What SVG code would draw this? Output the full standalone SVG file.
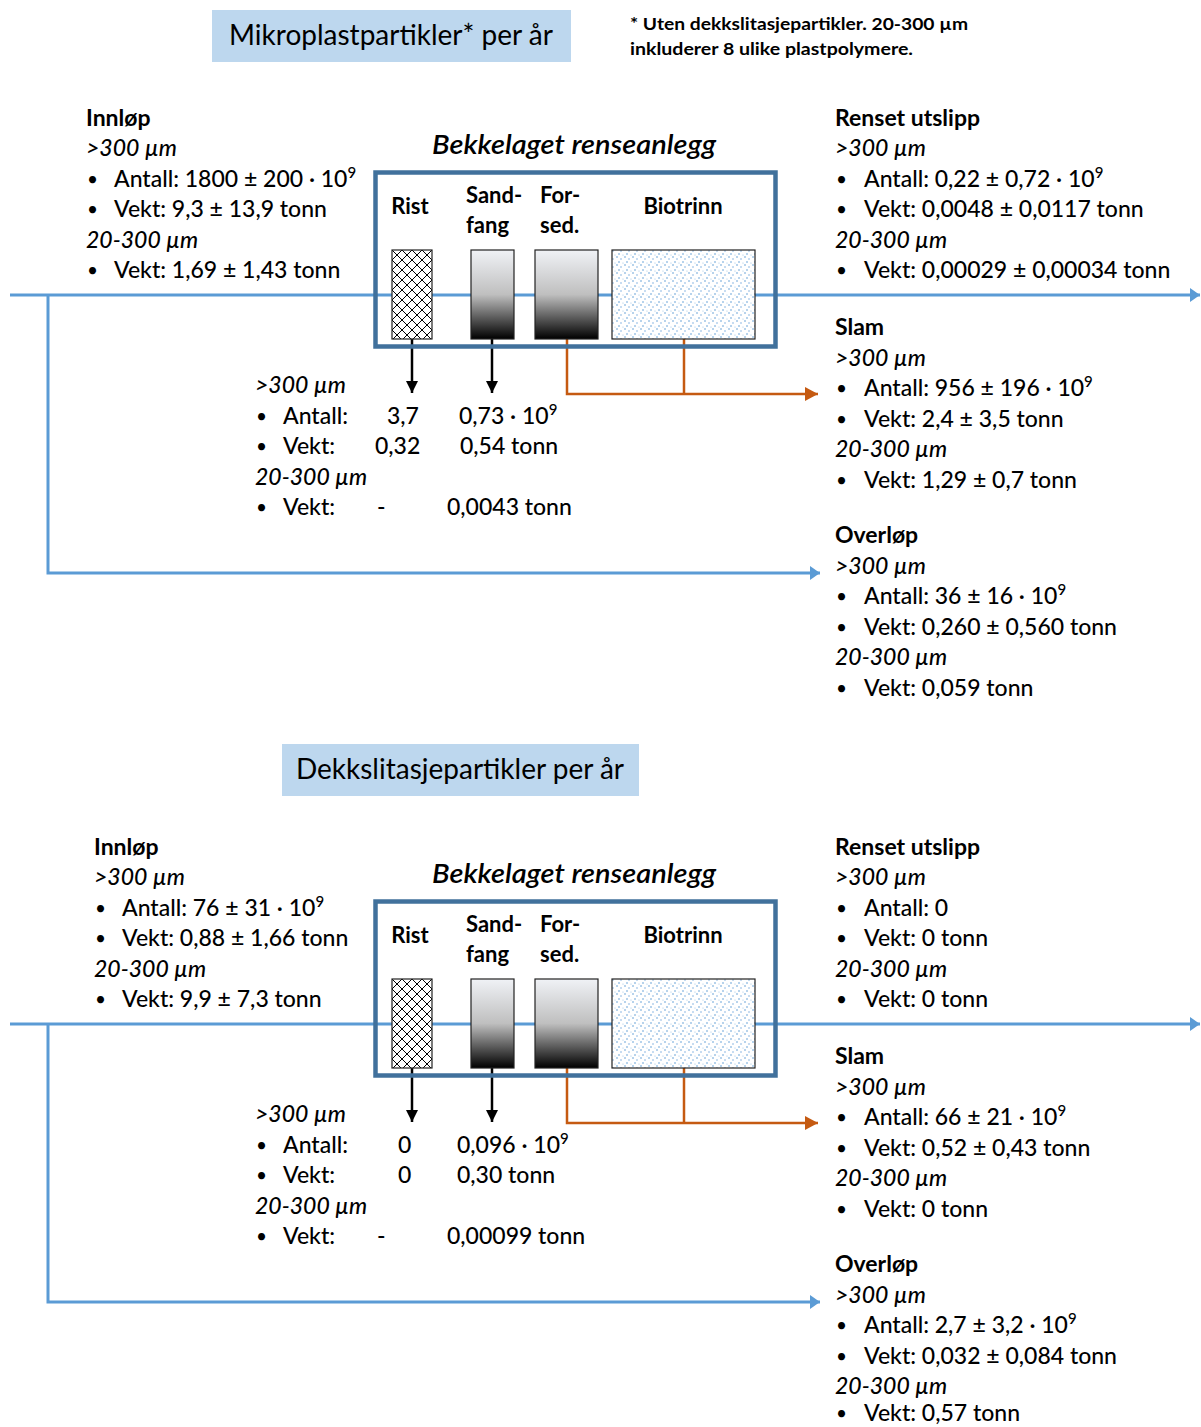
<svg xmlns="http://www.w3.org/2000/svg" width="1201" height="1427" viewBox="0 0 1201 1427">
<style>
text{font-family:Lato,"Liberation Sans",Arial,sans-serif;fill:#000}
.t{font-size:23px;font-weight:500}
.b{font-size:19px}
.h{font-size:23px;font-weight:bold}
.i{font-size:23px;font-style:italic;font-weight:500}
.lab{font-size:22px;font-weight:bold}
.ttl{font-size:28px}
.fn{font-size:17px;font-weight:bold}
.plant{font-size:27px;font-style:italic;font-weight:600}
.sup{font-size:15px}
.blue{stroke:#5B9BD5;stroke-width:3;fill:none}
.org{stroke:#C55A11;stroke-width:2.5;fill:none}
.blk{stroke:#000;stroke-width:2.5;fill:none}
.frame{stroke:#41719C;stroke-width:4.5;fill:none}
.unit{stroke:#222;stroke-width:1.2}
</style>
<defs>
<marker id="ab" markerUnits="userSpaceOnUse" markerWidth="10" markerHeight="14" refX="10" refY="7" orient="auto"><path d="M0,0 L10,7 L0,14 z" fill="#5B9BD5"/></marker>
<marker id="ak" markerUnits="userSpaceOnUse" markerWidth="12" markerHeight="12" refX="12" refY="6" orient="auto"><path d="M0,0 L12,6 L0,12 z" fill="#000"/></marker>
<marker id="ao" markerUnits="userSpaceOnUse" markerWidth="13" markerHeight="14" refX="13" refY="7" orient="auto"><path d="M0,0 L13,7 L0,14 z" fill="#C55A11"/></marker>
<pattern id="hatch" patternUnits="userSpaceOnUse" width="10" height="10" x="392" y="250">
<rect width="10" height="10" fill="#fff"/>
<path d="M0,0 L10,10 M10,0 L0,10" stroke="#000" stroke-width="1"/>
</pattern>
<pattern id="dots" patternUnits="userSpaceOnUse" width="8" height="8">
<rect width="8" height="8" fill="#fff"/>
<circle cx="1" cy="1" r="0.8" fill="#5B9BD5"/>
<circle cx="5" cy="3" r="0.8" fill="#7FB0E0"/>
<circle cx="3" cy="6" r="0.8" fill="#5B9BD5"/>
<circle cx="7" cy="7" r="0.6" fill="#9DC3E6"/>
</pattern>
<linearGradient id="grad" x1="0" y1="0" x2="0" y2="1">
<stop offset="0" stop-color="#F0F2F6"/>
<stop offset="0.5" stop-color="#BFBFBF"/>
<stop offset="1" stop-color="#000"/>
</linearGradient>
<g id="plantShape">
<rect x="375.5" y="172.5" width="400" height="174" class="frame"/>
<rect x="392" y="250" width="40" height="89" fill="url(#hatch)" class="unit"/>
<rect x="471" y="250" width="43" height="89" fill="url(#grad)" class="unit"/>
<rect x="535" y="250" width="63" height="89" fill="url(#grad)" class="unit"/>
<rect x="612" y="250" width="143" height="89" fill="url(#dots)" class="unit"/>
<text x="410" y="214" class="lab" text-anchor="middle">Rist</text>
<text x="466" y="203" class="lab">Sand-</text>
<text x="466" y="233" class="lab">fang</text>
<text x="540" y="203" class="lab">For-</text>
<text x="540" y="233" class="lab">sed.</text>
<text x="683" y="214" class="lab" text-anchor="middle">Biotrinn</text>
<text x="432" y="154" class="plant" textLength="284" lengthAdjust="spacingAndGlyphs">Bekkelaget renseanlegg</text>
</g>
<g id="flows">
<path d="M10,295 H1200" class="blue" marker-end="url(#ab)"/>
<path d="M48,295 V573 H820" class="blue" marker-end="url(#ab)"/>
<path d="M412,339 V393" class="blk" marker-end="url(#ak)"/>
<path d="M492,339 V393" class="blk" marker-end="url(#ak)"/>
<path d="M567,339 V394 H818" class="org" marker-end="url(#ao)"/>
<path d="M684,339 V394" class="org"/>
</g>
</defs>

<!-- Section 1 -->
<g id="title1">
<rect x="212" y="10" width="359" height="52" fill="#BDD7EE"/>
<text x="391" y="45" class="ttl" text-anchor="middle">Mikroplastpartikler* per år</text>
</g>
<g id="footnote">
<text x="630" y="30" class="fn" textLength="338" lengthAdjust="spacingAndGlyphs">* Uten dekkslitasjepartikler. 20-300 µm</text>
<text x="630" y="55" class="fn" textLength="283" lengthAdjust="spacingAndGlyphs">inkluderer 8 ulike plastpolymere.</text>
</g>
<g id="connectors1">
<use href="#flows"/>
</g>
<g id="plant1">
<use href="#plantShape"/>
</g>
<g id="inlet1">
<text x="86" y="126" class="h">Innløp</text>
<text x="86" y="156" class="i">&gt;300 µm</text>
<text x="87" y="186" class="b">•</text><text x="114" y="187" class="t">Antall: 1800 ± 200 · 10<tspan class="sup" dy="-9">9</tspan></text>
<text x="87" y="216" class="b">•</text><text x="114" y="217" class="t">Vekt: 9,3 ± 13,9 tonn</text>
<text x="86" y="248" class="i">20-300 µm</text>
<text x="87" y="277" class="b">•</text><text x="114" y="278" class="t">Vekt: 1,69 ± 1,43 tonn</text>
</g>
<g id="removed1">
<text x="255" y="393" class="i">&gt;300 µm</text>
<text x="256" y="423" class="b">•</text><text x="283" y="424" class="t">Antall:</text>
<text x="387" y="424" class="t">3,7</text><text x="459" y="424" class="t">0,73 · 10<tspan class="sup" dy="-9">9</tspan></text>
<text x="256" y="453" class="b">•</text><text x="283" y="454" class="t">Vekt:</text>
<text x="375" y="454" class="t">0,32</text><text x="460" y="454" class="t">0,54 tonn</text>
<text x="255" y="485" class="i">20-300 µm</text>
<text x="256" y="514" class="b">•</text><text x="283" y="515" class="t">Vekt:</text>
<text x="377" y="515" class="t">-</text><text x="447" y="515" class="t">0,0043 tonn</text>
</g>
<g id="effluent1">
<text x="835" y="126" class="h">Renset utslipp</text>
<text x="835" y="156" class="i">&gt;300 µm</text>
<text x="836" y="186" class="b">•</text><text x="864" y="187" class="t">Antall: 0,22 ± 0,72 · 10<tspan class="sup" dy="-9">9</tspan></text>
<text x="836" y="216" class="b">•</text><text x="864" y="217" class="t">Vekt: 0,0048 ± 0,0117 tonn</text>
<text x="835" y="248" class="i">20-300 µm</text>
<text x="836" y="277" class="b">•</text><text x="864" y="278" class="t">Vekt: 0,00029 ± 0,00034 tonn</text>
</g>
<g id="sludge1">
<text x="835" y="335" class="h">Slam</text>
<text x="835" y="366" class="i">&gt;300 µm</text>
<text x="836" y="395" class="b">•</text><text x="864" y="396" class="t">Antall: 956 ± 196 · 10<tspan class="sup" dy="-9">9</tspan></text>
<text x="836" y="426" class="b">•</text><text x="864" y="427" class="t">Vekt: 2,4 ± 3,5 tonn</text>
<text x="835" y="457" class="i">20-300 µm</text>
<text x="836" y="487" class="b">•</text><text x="864" y="488" class="t">Vekt: 1,29 ± 0,7 tonn</text>
</g>
<g id="overflow1">
<text x="835" y="543" class="h">Overløp</text>
<text x="835" y="574" class="i">&gt;300 µm</text>
<text x="836" y="603" class="b">•</text><text x="864" y="604" class="t">Antall: 36 ± 16 · 10<tspan class="sup" dy="-9">9</tspan></text>
<text x="836" y="634" class="b">•</text><text x="864" y="635" class="t">Vekt: 0,260 ± 0,560 tonn</text>
<text x="835" y="665" class="i">20-300 µm</text>
<text x="836" y="695" class="b">•</text><text x="864" y="696" class="t">Vekt: 0,059 tonn</text>
</g>

<!-- Section 2 -->
<g id="title2">
<rect x="282" y="744" width="357" height="52" fill="#BDD7EE"/>
<text x="460" y="779" class="ttl" text-anchor="middle">Dekkslitasjepartikler per år</text>
</g>
<g id="connectors2" transform="translate(0,729)">
<use href="#flows"/>
</g>
<g id="plant2" transform="translate(0,729)">
<use href="#plantShape"/>
</g>
<g id="inlet2">
<text x="94" y="855" class="h">Innløp</text>
<text x="94" y="885" class="i">&gt;300 µm</text>
<text x="95" y="915" class="b">•</text><text x="122" y="916" class="t">Antall: 76 ± 31 · 10<tspan class="sup" dy="-9">9</tspan></text>
<text x="95" y="945" class="b">•</text><text x="122" y="946" class="t">Vekt: 0,88 ± 1,66 tonn</text>
<text x="94" y="977" class="i">20-300 µm</text>
<text x="95" y="1006" class="b">•</text><text x="122" y="1007" class="t">Vekt: 9,9 ± 7,3 tonn</text>
</g>
<g id="removed2">
<text x="255" y="1122" class="i">&gt;300 µm</text>
<text x="256" y="1152" class="b">•</text><text x="283" y="1153" class="t">Antall:</text>
<text x="398" y="1153" class="t">0</text><text x="457" y="1153" class="t">0,096 · 10<tspan class="sup" dy="-9">9</tspan></text>
<text x="256" y="1182" class="b">•</text><text x="283" y="1183" class="t">Vekt:</text>
<text x="398" y="1183" class="t">0</text><text x="457" y="1183" class="t">0,30 tonn</text>
<text x="255" y="1214" class="i">20-300 µm</text>
<text x="256" y="1243" class="b">•</text><text x="283" y="1244" class="t">Vekt:</text>
<text x="377" y="1244" class="t">-</text><text x="447" y="1244" class="t">0,00099 tonn</text>
</g>
<g id="effluent2">
<text x="835" y="855" class="h">Renset utslipp</text>
<text x="835" y="885" class="i">&gt;300 µm</text>
<text x="836" y="915" class="b">•</text><text x="864" y="916" class="t">Antall: 0</text>
<text x="836" y="945" class="b">•</text><text x="864" y="946" class="t">Vekt: 0 tonn</text>
<text x="835" y="977" class="i">20-300 µm</text>
<text x="836" y="1006" class="b">•</text><text x="864" y="1007" class="t">Vekt: 0 tonn</text>
</g>
<g id="sludge2">
<text x="835" y="1064" class="h">Slam</text>
<text x="835" y="1095" class="i">&gt;300 µm</text>
<text x="836" y="1124" class="b">•</text><text x="864" y="1125" class="t">Antall: 66 ± 21 · 10<tspan class="sup" dy="-9">9</tspan></text>
<text x="836" y="1155" class="b">•</text><text x="864" y="1156" class="t">Vekt: 0,52 ± 0,43 tonn</text>
<text x="835" y="1186" class="i">20-300 µm</text>
<text x="836" y="1216" class="b">•</text><text x="864" y="1217" class="t">Vekt: 0 tonn</text>
</g>
<g id="overflow2">
<text x="835" y="1272" class="h">Overløp</text>
<text x="835" y="1303" class="i">&gt;300 µm</text>
<text x="836" y="1332" class="b">•</text><text x="864" y="1333" class="t">Antall: 2,7 ± 3,2 · 10<tspan class="sup" dy="-9">9</tspan></text>
<text x="836" y="1363" class="b">•</text><text x="864" y="1364" class="t">Vekt: 0,032 ± 0,084 tonn</text>
<text x="835" y="1394" class="i">20-300 µm</text>
<text x="836" y="1420" class="b">•</text><text x="864" y="1421" class="t">Vekt: 0,57 tonn</text>
</g>
</svg>
